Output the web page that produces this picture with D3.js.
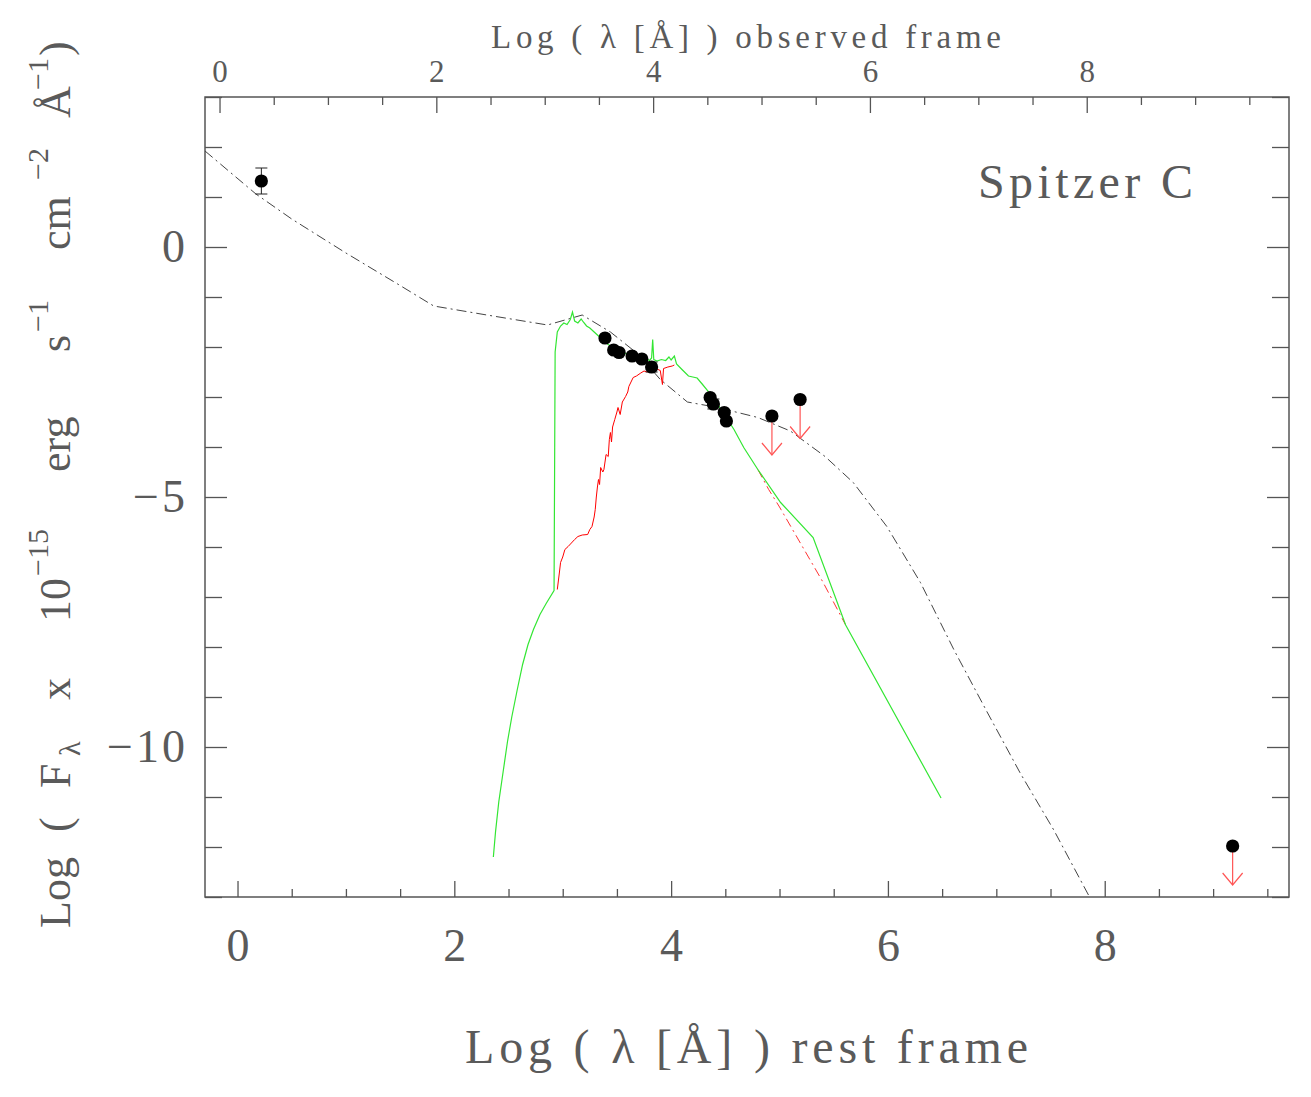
<!DOCTYPE html>
<html>
<head>
<meta charset="utf-8">
<script src="https://cdn.jsdelivr.net/npm/d3@7"></script>
<style>
  body { margin: 0; background: #fff; }
  svg text { font-family: "Liberation Serif", "DejaVu Serif", serif; fill: #5a5a5a; }
</style>
</head>
<body>
<svg id="chart" width="1311" height="1097"></svg>
<script>
// rest-frame log(lambda) vs log(F_lambda)
let model_bb = [[-0.3,1.92],[0.17,1.06],[0.5,0.56],[1.0,-0.12],[1.5,-0.77],[1.81,-1.18],[2.3,-1.36],[2.86,-1.56],
    [3.18,-1.36],[3.44,-1.70],[3.70,-2.15],[3.90,-2.65],[4.15,-3.10],[4.43,-3.21],[4.80,-3.41],[5.10,-3.68],
    [5.42,-4.19],[5.68,-4.71],[5.99,-5.59],[6.30,-6.71],[6.61,-8.06],[6.92,-9.32],[7.22,-10.52],[7.53,-11.66],[7.86,-13.0]];

let green_sed = [[2.36,-12.2],[2.38,-11.7],[2.41,-11.1],[2.45,-10.5],[2.49,-9.9],[2.53,-9.4],[2.58,-8.86],[2.63,-8.35],
    [2.68,-7.95],[2.73,-7.65],[2.79,-7.35],[2.85,-7.12],[2.92,-6.87],[2.93,-2.1],[2.95,-1.7],[2.98,-1.58],[3.01,-1.52],[3.04,-1.55],[3.07,-1.45],
    [3.09,-1.30],[3.11,-1.48],[3.14,-1.52],[3.17,-1.44],[3.19,-1.50],[3.22,-1.58],[3.25,-1.62],[3.29,-1.70],[3.33,-1.78],
    [3.37,-1.86],[3.42,-1.95],[3.47,-2.02],[3.52,-2.08],[3.57,-2.12],[3.62,-2.18],[3.67,-2.20],[3.72,-2.24],[3.76,-2.22],
    [3.80,-2.27],[3.82,-2.22],[3.83,-1.85],[3.84,-2.25],[3.87,-2.28],[3.91,-2.25],[3.95,-2.27],[3.98,-2.20],[4.00,-2.26],
    [4.03,-2.18],[4.05,-2.34],[4.10,-2.45],[4.16,-2.58],[4.20,-2.60],[4.24,-2.62],[4.29,-2.75],[4.34,-2.88],[4.40,-3.05],
    [4.46,-3.25],[4.52,-3.45],[4.58,-3.65],[4.67,-4.01],[4.80,-4.45],[5.01,-5.11],[5.31,-5.81],[5.61,-7.56],[6.49,-11.02]];

let red_sed = [[2.95,-6.85],[2.97,-6.5],[2.98,-6.31],[3.00,-6.2],[3.02,-6.05],[3.05,-5.99],[3.08,-5.92],[3.11,-5.85],
    [3.14,-5.79],[3.18,-5.76],[3.23,-5.75],[3.25,-5.65],[3.27,-5.59],[3.29,-5.40],[3.30,-5.25],[3.31,-5.0],[3.32,-4.8],
    [3.33,-4.65],[3.34,-4.75],[3.35,-4.41],[3.37,-4.50],[3.38,-4.45],[3.40,-4.15],[3.42,-4.19],[3.43,-3.85],[3.44,-3.71],
    [3.45,-3.9],[3.46,-3.60],[3.48,-3.45],[3.50,-3.30],[3.51,-3.21],[3.53,-3.35],[3.55,-3.10],[3.58,-2.99],[3.60,-2.90],
    [3.61,-2.79],[3.63,-2.70],[3.65,-2.61],[3.68,-2.58],[3.72,-2.52],[3.75,-2.48],[3.78,-2.50],[3.81,-2.45],[3.85,-2.46],
    [3.87,-2.44],[3.90,-2.47],[3.92,-2.75],[3.93,-2.43],[3.97,-2.40],[4.01,-2.38],[4.03,-2.36]];

let red_tail = [[4.80,-4.45],[4.90,-4.85],[5.00,-5.20],[5.20,-5.95],[5.40,-6.70],[5.61,-7.56]];

let phot_x = [0.22, 3.39, 3.47, 3.52, 3.64, 3.73, 3.82, 4.36, 4.39, 4.49, 4.51];
let phot_y = [1.32, -1.82, -2.06, -2.11, -2.18, -2.24, -2.40, -3.01, -3.14, -3.31, -3.48];
let phot_err = [0.26, 0.03, 0.03, 0.03, 0.03, 0.03, 0.1, 0.05, 0.1, 0.05, 0.03];

let lim_x = [4.93, 5.19, 9.18];
let lim_y = [-3.38, -3.05, -11.98];
let lim_len = 0.78;

let z_shift = 0.166;   // log(1+z) between rest and observed frame
let x_major = [0, 2, 4, 6, 8];
let y_major = [0, -5, -10];

let svg = d3.select("#chart");
svg.append("rect").attr("width", 1311).attr("height", 1097).attr("fill", "#fff");

let x = d3.scaleLinear().domain([-0.3, 9.7]).range([205, 1289]);
let x_obs = d3.scaleLinear().domain([-0.3 + z_shift, 9.7 + z_shift]).range([205, 1289]);
let y = d3.scaleLinear().domain([-13, 3]).range([897, 97]);

let axis_color = "#555";

function style_axis(g, fs) {
    g.select(".domain").remove();
    g.selectAll("line").attr("stroke", axis_color).attr("stroke-width", 1.3);
    g.selectAll("text").style("font-size", fs + "px").attr("fill", "#5a5a5a");
}

let minor_x = d3.range(0, 10, 0.5).filter(v => v % 2 !== 0);
let minor_y = d3.range(-13, 4, 1).filter(v => v % 5 !== 0);

// bottom
svg.append("g").attr("transform", "translate(0,897)")
    .call(d3.axisBottom(x).tickValues(x_major).tickSize(-16).tickSizeOuter(0).tickPadding(31))
    .call(g => style_axis(g, 46));
svg.append("g").attr("transform", "translate(0,897)")
    .call(d3.axisBottom(x).tickValues(minor_x).tickSize(-8).tickSizeOuter(0).tickFormat(""))
    .call(g => style_axis(g, 46));
// top
svg.append("g").attr("transform", "translate(0,97)")
    .call(d3.axisTop(x_obs).tickValues(x_major).tickSize(-16).tickSizeOuter(0).tickPadding(15))
    .call(g => style_axis(g, 31));
svg.append("g").attr("transform", "translate(0,97)")
    .call(d3.axisTop(x_obs).tickValues(minor_x).tickSize(-8).tickSizeOuter(0).tickFormat(""))
    .call(g => style_axis(g, 31));
// left
svg.append("g").attr("transform", "translate(205,0)")
    .call(d3.axisLeft(y).tickValues(y_major).tickSize(-22).tickSizeOuter(0).tickPadding(17))
    .call(g => style_axis(g, 46))
    .call(g => g.selectAll("text").attr("letter-spacing", "3px"));
svg.append("g").attr("transform", "translate(205,0)")
    .call(d3.axisLeft(y).tickValues(minor_y).tickSize(-17).tickSizeOuter(0).tickFormat(""))
    .call(g => style_axis(g, 46));
// right
svg.append("g").attr("transform", "translate(1289,0)")
    .call(d3.axisRight(y).tickValues(y_major).tickSize(-22).tickSizeOuter(0).tickFormat(""))
    .call(g => style_axis(g, 46));
svg.append("g").attr("transform", "translate(1289,0)")
    .call(d3.axisRight(y).tickValues(minor_y).tickSize(-17).tickSizeOuter(0).tickFormat(""))
    .call(g => style_axis(g, 46));

svg.append("rect")
    .attr("x", 205).attr("y", 97)
    .attr("width", 1289 - 205).attr("height", 897 - 97)
    .attr("fill", "none").attr("stroke", axis_color).attr("stroke-width", 1.5);

let plot = svg.append("g");
svg.append("clipPath").attr("id", "clip").append("rect")
    .attr("x", 205).attr("y", 97).attr("width", 1084).attr("height", 800);
plot.attr("clip-path", "url(#clip)");

let line = d3.line().x(d => x(d[0])).y(d => y(d[1]));

plot.append("path").attr("d", line(model_bb))
    .attr("fill", "none").attr("stroke", "#444").attr("stroke-width", 1)
    .attr("stroke-dasharray", "10,4,2,4");

plot.append("path").attr("d", line(red_sed))
    .attr("fill", "none").attr("stroke", "#f00").attr("stroke-width", 1);
plot.append("path").attr("d", line(red_tail))
    .attr("fill", "none").attr("stroke", "#f33").attr("stroke-width", 1)
    .attr("stroke-dasharray", "9,4,2,4");

plot.append("path").attr("d", line(green_sed))
    .attr("fill", "none").attr("stroke", "#33e633").attr("stroke-width", 1.2);

// error bars
let phot = phot_x.map((v, i) => ({x: v, y: phot_y[i], e: phot_err[i]}));
let eb = plot.append("g").attr("stroke", "#222").attr("stroke-width", 1);
eb.selectAll(".ev").data(phot).join("line")
    .attr("x1", d => x(d.x)).attr("x2", d => x(d.x))
    .attr("y1", d => y(d.y + d.e)).attr("y2", d => y(d.y - d.e));
eb.selectAll(".et").data(phot.filter(d => d.e > 0.05)).join("path")
    .attr("d", d => `M${x(d.x) - 6},${y(d.y + d.e)}h12M${x(d.x) - 6},${y(d.y - d.e)}h12`);

plot.selectAll(".dot").data(phot).join("circle")
    .attr("cx", d => x(d.x)).attr("cy", d => y(d.y)).attr("r", 6.6)
    .attr("fill", "#000");

// upper limits
let lims = lim_x.map((v, i) => ({x: v, y: lim_y[i]}));
let lg = plot.append("g").attr("stroke", "#f55").attr("stroke-width", 1.2).attr("fill", "none");
lg.selectAll("line").data(lims).join("line")
    .attr("x1", d => x(d.x)).attr("x2", d => x(d.x))
    .attr("y1", d => y(d.y)).attr("y2", d => y(d.y - lim_len));
lg.selectAll("path").data(lims).join("path")
    .attr("d", d => `M${x(d.x) - 10},${y(d.y - lim_len) - 12}L${x(d.x)},${y(d.y - lim_len)}L${x(d.x) + 10},${y(d.y - lim_len) - 12}`);
plot.selectAll(".ldot").data(lims).join("circle")
    .attr("cx", d => x(d.x)).attr("cy", d => y(d.y)).attr("r", 6.6)
    .attr("fill", "#000");

// labels
svg.append("text").attr("x", 978).attr("y", 198)
    .attr("textLength", 215).attr("lengthAdjust", "spacing")
    .style("font-size", "48px").text("Spitzer C");

svg.append("text").attr("x", 491).attr("y", 48)
    .attr("textLength", 510).attr("lengthAdjust", "spacing")
    .style("font-size", "33px").text("Log ( λ [Å] ) observed frame");

svg.append("text").attr("x", 465).attr("y", 1063)
    .attr("textLength", 563).attr("lengthAdjust", "spacing")
    .style("font-size", "48px").text("Log ( λ [Å] ) rest frame");

let ylab = [
    {s: "Log", at: 928, dy: 0, fs: 44},
    {s: "(", at: 832, dy: 0, fs: 44},
    {s: "F", at: 788, dy: 0, fs: 44},
    {s: "λ", at: 756, dy: 10, fs: 30},
    {s: "x", at: 700, dy: 0, fs: 44},
    {s: "10", at: 622, dy: 0, fs: 44},
    {s: "−15", at: 576, dy: -22, fs: 30},
    {s: "erg", at: 472, dy: 0, fs: 44},
    {s: "s", at: 352, dy: 0, fs: 44},
    {s: "−1", at: 332, dy: -22, fs: 30},
    {s: "cm", at: 250, dy: 0, fs: 44},
    {s: "−2", at: 180, dy: -22, fs: 30},
    {s: "Å", at: 118, dy: 0, fs: 44},
    {s: "−1", at: 90, dy: -22, fs: 30},
    {s: ")", at: 56, dy: 0, fs: 44}
];
let yl = svg.append("g").attr("transform", "translate(70,0) rotate(-90)");
yl.selectAll("text").data(ylab).join("text")
    .attr("x", d => -d.at).attr("y", d => d.dy)
    .style("font-size", d => d.fs + "px")
    .text(d => d.s);
</script>
</body>
</html>
